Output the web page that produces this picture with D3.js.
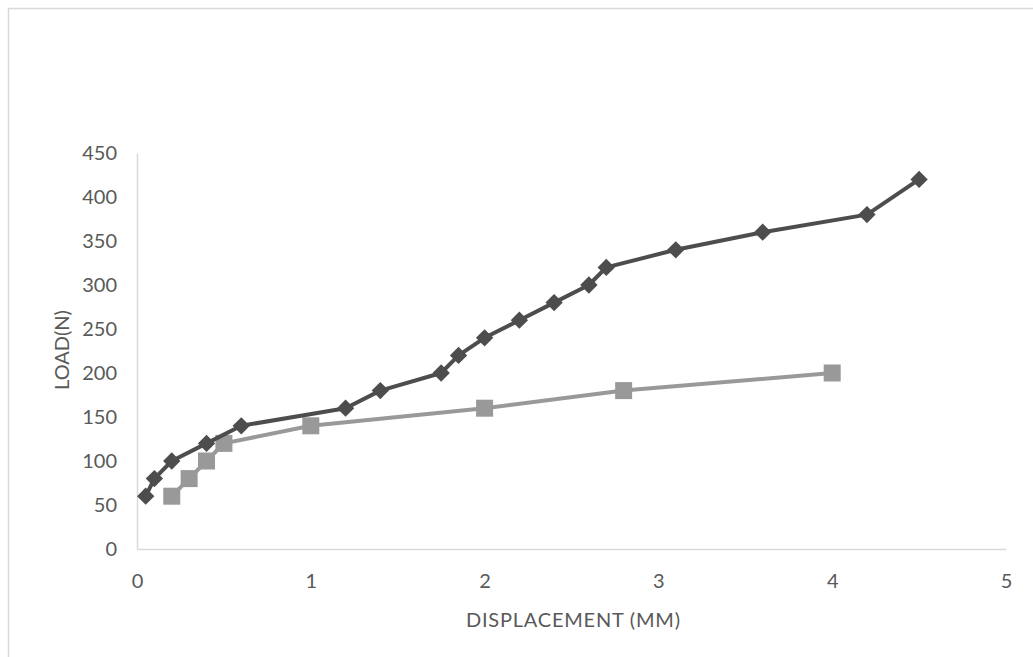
<!DOCTYPE html>
<html>
<head>
  <meta http-equiv="Content-Type" content="text/html;charset=utf-8" />
  <style type="text/css">
    body { margin: 0; background: #fff; }
    text { font-family: Lato, "Open Sans", sans-serif; fill: #595959; }
  </style>
</head>
<body>
  <div id="chart"></div>
  <script src="https://d3js.org/d3.v7.min.js"></script>
  <script type="text/javascript">
    // data
    var darkX = [0.05, 0.1, 0.2, 0.4, 0.6, 1.2, 1.4, 1.75, 1.85, 2, 2.2, 2.4, 2.6, 2.7, 3.1, 3.6, 4.2, 4.5];
    var darkY = [60, 80, 100, 120, 140, 160, 180, 200, 220, 240, 260, 280, 300, 320, 340, 360, 380, 420];
    var greyX = [0.2, 0.3, 0.4, 0.5, 1, 2, 2.8, 4];
    var greyY = [60, 80, 100, 120, 140, 160, 180, 200];
    var xTicks = [0, 1, 2, 3, 4, 5];
    var yTicks = [0, 50, 100, 150, 200, 250, 300, 350, 400, 450];
    var xTitle = "DISPLACEMENT (MM)";
    var yTitle = "LOAD(N)";

    var w = 1033, h = 657;
    var svg = d3.select("#chart").append("svg")
      .attr("width", w).attr("height", h);

    // chart frame (runs off right/bottom)
    svg.append("rect")
      .attr("x", 8.5).attr("y", 8.5)
      .attr("width", w + 10).attr("height", h + 10)
      .attr("fill", "none").attr("stroke", "#d9d9d9").attr("stroke-width", 1.5);

    var x = d3.scaleLinear().domain([0, 5]).range([137, 1006]);
    var y = d3.scaleLinear().domain([0, 450]).range([549, 153]);

    // axes
    var xAxis = svg.append("g").attr("transform", "translate(0,549)")
      .call(d3.axisBottom(x).tickValues(xTicks).tickFormat(d3.format("d")).tickSize(0).tickPadding(25));
    var yAxis = svg.append("g").attr("transform", "translate(137,0)")
      .call(d3.axisLeft(y).tickValues(yTicks).tickFormat(d3.format("d")).tickSize(0).tickPadding(20));
    xAxis.select(".domain").attr("stroke", "#d9d9d9").attr("stroke-width", 1.5);
    yAxis.select(".domain").attr("stroke", "#d9d9d9").attr("stroke-width", 1.5);
    svg.selectAll(".tick text").attr("font-size", 20).attr("font-family", "Lato, sans-serif").attr("fill", "#595959");

    svg.append("text").attr("x", 573).attr("y", 627)
      .attr("text-anchor", "middle").attr("font-size", 20).attr("textLength", 214).text(xTitle);
    svg.append("text").attr("transform", "translate(69,350) rotate(-90)")
      .attr("text-anchor", "middle").attr("font-size", 20).text(yTitle);

    var line = d3.line().x(function (d) { return x(d[0]); }).y(function (d) { return y(d[1]); });
    var greyData = greyX.map(function (v, i) { return [v, greyY[i]]; });
    var darkData = darkX.map(function (v, i) { return [v, darkY[i]]; });

    // grey series with squares
    svg.append("path").attr("d", line(greyData))
      .attr("fill", "none").attr("stroke", "#999999").attr("stroke-width", 4).attr("stroke-linejoin", "round");
    svg.selectAll(".sq").data(greyData).enter().append("rect")
      .attr("x", function (d) { return x(d[0]) - 8.5; })
      .attr("y", function (d) { return y(d[1]) - 8.5; })
      .attr("width", 17).attr("height", 17)
      .attr("fill", "#999999");

    // dark series with diamonds
    svg.append("path").attr("d", line(darkData))
      .attr("fill", "none").attr("stroke", "#4d4d4d").attr("stroke-width", 4).attr("stroke-linejoin", "round");
    var diamond = d3.symbol().type(d3.symbolSquare).size(150);
    svg.selectAll(".dm").data(darkData).enter().append("path")
      .attr("d", diamond)
      .attr("transform", function (d) { return "translate(" + x(d[0]) + "," + y(d[1]) + ") rotate(45)"; })
      .attr("fill", "#4d4d4d");
  </script>
</body>
</html>
